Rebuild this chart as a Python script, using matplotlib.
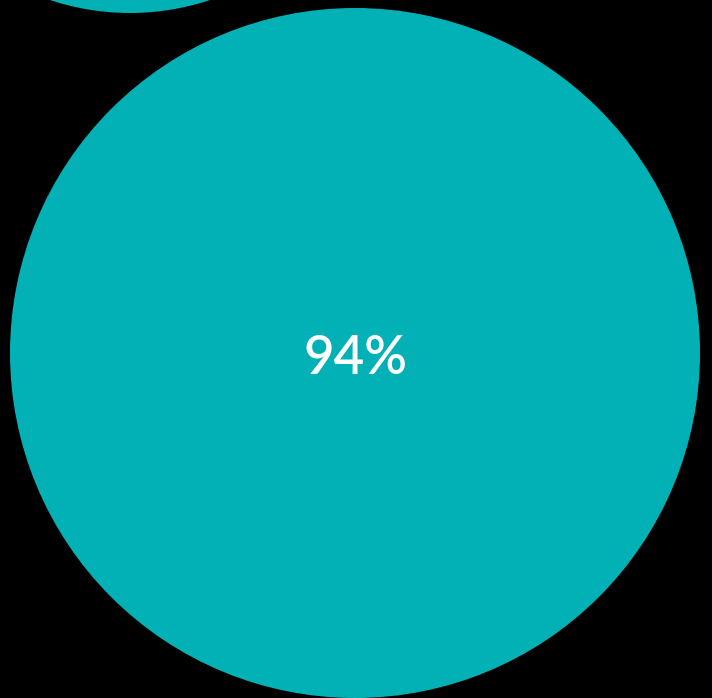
import matplotlib.pyplot as plt
from matplotlib.patches import Circle

# bubble layout (pixel space of the figure)
labels = ['', '94%']
cx = [130, 355]
cy = [-240, 353]
radius = [253, 345]
teal = '#02B1B5'

fig = plt.figure(figsize=(7.12, 6.98), dpi=100, facecolor='black')
ax = fig.add_axes([0, 0, 1, 1])
ax.set_facecolor('black')
ax.set_xlim(0, 712)
ax.set_ylim(698, 0)
ax.set_aspect('equal')
ax.axis('off')

for x, y, r, lab in zip(cx, cy, radius, labels):
    ax.add_patch(Circle((x, y), r, color=teal, lw=0))
    if lab:
        ax.text(x, y + 6, lab, color='white', fontsize=38, family='Lato',
                fontweight='semibold', ha='center', va='center')

fig.savefig('out.png', dpi=100, facecolor='black')
